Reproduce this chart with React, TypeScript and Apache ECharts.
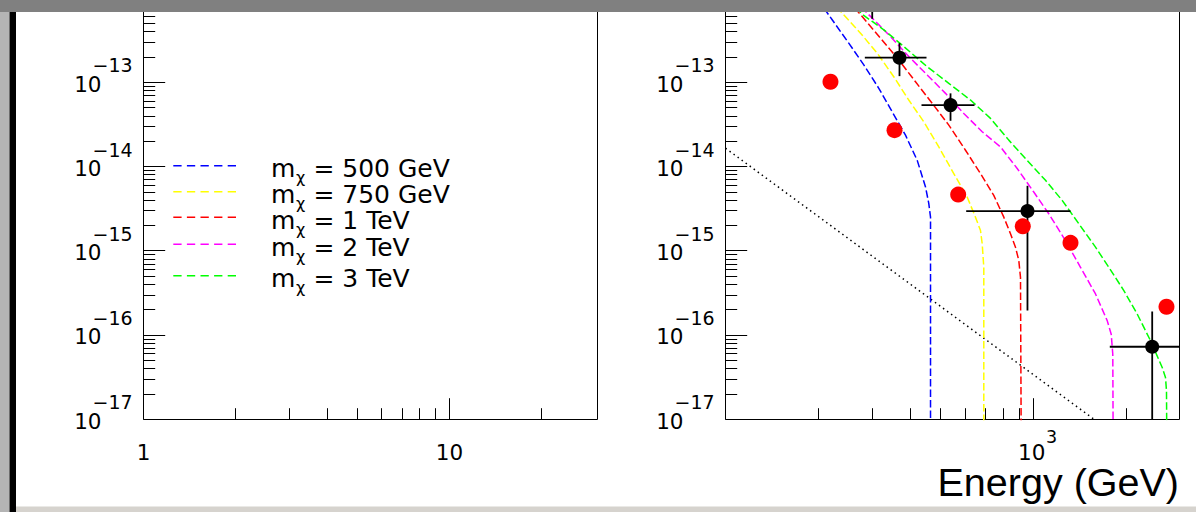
import React, { useEffect, useRef } from "react";
import * as echarts from "echarts";

// ---------------- data ----------------
const massLabels = ["500 GeV", "750 GeV", "1 TeV", "2 TeV", "3 TeV"];
const curveColors = ["#0000ff", "#ffff00", "#ff0000", "#ff00ff", "#00ff00"];

// model spectra [E (GeV), flux]
const curve500: [number, number][] = [
  [199.7, 9.59e-13], [222.0, 5.55e-13], [251.3, 2.93e-13], [281.2, 1.62e-13],
  [314.6, 8.53e-14], [347.6, 4.49e-14], [384.1, 2.37e-14], [419.3, 1.19e-14],
  [446.1, 5.75e-15], [457.2, 3.65e-15], [463.1, 2.52e-15], [463.1, 1e-18],
];
const curve750: [number, number][] = [
  [216.6, 9.59e-13], [239.3, 6.67e-13], [274.4, 3.85e-13], [310.9, 2.23e-13],
  [351.8, 1.17e-13], [393.6, 6.19e-14], [440.5, 3.41e-14], [492.6, 1.72e-14],
  [551.0, 8.3e-15], [609.1, 4.37e-15], [648.1, 2.52e-15], [672.9, 1.75e-15],
  [681.5, 1.22e-15], [689.7, 6.41e-16], [689.7, 1e-18],
];
const curve1000: [number, number][] = [
  [249.5, 9.59e-13], [277.8, 6.07e-13], [318.6, 3.36e-13], [365.3, 1.85e-13],
  [413.9, 1.02e-13], [469.1, 5.65e-14], [530.9, 3.12e-14], [601.5, 1.57e-14],
  [672.9, 8.3e-15], [743.1, 4.58e-15], [801.0, 2.52e-15], [842.1, 1.6e-15],
  [874.1, 1.11e-15], [896.0, 7.71e-16], [907.4, 4.87e-16], [914.1, 1e-18],
];
const curve2000: [number, number][] = [
  [261.0, 9.59e-13], [303.1, 5.55e-13], [343.4, 3.51e-13], [393.6, 2.03e-13],
  [451.7, 1.23e-13], [518.0, 7.43e-14], [593.9, 4.29e-14], [681.5, 2.6e-14],
  [781.4, 1.72e-14], [885.3, 9.53e-15], [1002, 5.01e-15], [1121, 2.77e-15],
  [1270, 1.33e-15], [1421, 6.41e-16], [1590, 3.09e-16], [1735, 1.49e-16],
  [1788, 1.03e-16], [1809, 5.97e-17], [1818, 1e-18],
];
const curve3000: [number, number][] = [
  [250.8, 9.59e-13], [279.1, 6.37e-13], [299.5, 5.3e-13], [326.6, 4.22e-13],
  [379.3, 2.67e-13], [451.7, 1.54e-13], [530.9, 9.77e-14], [624.5, 6.19e-14],
  [725.1, 3.75e-14], [831.5, 2.07e-14], [953.9, 1.19e-14], [1094, 6.9e-15],
  [1239, 3.99e-15], [1403, 2.11e-15], [1590, 1.11e-15], [1756, 6.41e-16],
  [1965, 3.39e-16], [2171, 1.79e-16], [2399, 8.61e-17], [2618, 4.14e-17],
  [2683, 3.15e-17], [2703, 2.18e-17], [2717, 1e-18],
];
const curves = [curve500, curve750, curve1000, curve2000, curve3000];

// black measured points with error bars
const blackE = [299.5, 367.2, 537.8, 956, 2429];
const blackFlux = [1.3e-12, 1.97e-13, 5.39e-14, 2.98e-15, 7.3e-17];
const blackELo = [260, 283.4, 432.9, 604.6, 1769];
const blackEHi = [340, 449.4, 643.4, 1318.8, 3500];
const blackFluxLo = [5.7e-13, 1.19e-13, 3.51e-14, 1.96e-16, 1e-18];
const blackFluxHi = [2e-12, 2.93e-13, 7.43e-14, 5.94e-15, 1.92e-16];

// red points
const redE = [219.2, 353.8, 569.5, 923.2, 1318.8, 2703];
const redFlux = [1.02e-13, 2.72e-14, 4.67e-15, 1.96e-15, 1.25e-15, 2.18e-16];

// dotted background power law
const bkgE = [100, 1576];
const bkgFlux = [1.66e-14, 1e-17];

// ticks and tick labels
const yDecadeValues = [1e-17, 1e-16, 1e-15, 1e-14, 1e-13];
const yExpLabels = ["\u221217", "\u221216", "\u221215", "\u221214", "\u221213"];
const logMantissas = [2, 3, 4, 5, 6, 7, 8, 9];
const leftXMajor = [10];
const leftXMinor = [2, 3, 4, 5, 6, 7, 8, 9, 20];
const leftXLabelValues = [1, 10];
const leftXLabels = ["1", "10"];
const rightXMajor = [1000];
const rightXMinor = [200, 300, 400, 500, 600, 700, 800, 900, 2000];
const rightXLabelValues = [1000];
const rightXLabelBase = ["10"];
const rightXLabelExp = ["3"];
const xTitle = "Energy (GeV)";

// axis ranges
const leftXRange = [1, 30.45];
const rightXRange = [100, 2979];
const yRange = [1e-17, 9.53e-13];

// ---------------- layout ----------------
const FONT = "'DejaVu Sans', sans-serif";
const GRID_TOP = 0;
const GRID_H = 419.5;
const GRID_W = 454;
const LEFT_X0 = 143.5;
const RIGHT_X0 = 725.5;
const TICK_MAJ_Y = 21.7;
const TICK_MIN_Y = 11.7;
const TICK_MAJ_X = 21.3;
const TICK_MIN_X = 11.3;

const LEG = {
  x1: 173.3,
  x2: 236.7,
  lineY: [165.7, 191.7, 217.3, 244.3, 275.7],
  baseY: [177, 202.7, 229, 256, 286.7],
  mX: 271,
  chiX: 296,
  restX: 313.4,
};

type Deco = {
  kind: "xt" | "yt" | "xl" | "yl";
  v: number;
  major?: boolean;
  base?: string;
  exp?: string;
};

function buildDecos(
  xMajor: number[],
  xMinor: number[],
  xLabelVals: number[],
  xLabelBase: string[],
  xLabelExp: (string | undefined)[]
): Deco[] {
  const d: Deco[] = [];
  yDecadeValues.forEach((v, i) => {
    d.push({ kind: "yt", v, major: true });
    d.push({ kind: "yl", v, base: "10", exp: yExpLabels[i] });
    logMantissas.forEach((m) => d.push({ kind: "yt", v: v * m, major: false }));
  });
  xMajor.forEach((v) => d.push({ kind: "xt", v, major: true }));
  xMinor.forEach((v) => d.push({ kind: "xt", v, major: false }));
  xLabelVals.forEach((v, i) =>
    d.push({ kind: "xl", v, base: xLabelBase[i], exp: xLabelExp[i] })
  );
  return d;
}

function decoRender(decos: Deco[], xMin: number, yMin: number) {
  return (params: any, api: any) => {
    const d = decos[params.dataIndex];
    if (!d) return null;
    const crisp = (a: number) => Math.round(a - 0.5) + 0.5;
    if (d.kind === "yt") {
      const p = api.coord([xMin, d.v]);
      const y = crisp(p[1]);
      const len = d.major ? TICK_MAJ_Y : TICK_MIN_Y;
      return {
        type: "line",
        shape: { x1: p[0], y1: y, x2: p[0] + len, y2: y },
        style: { stroke: "#000", lineWidth: 1 },
      };
    }
    if (d.kind === "xt") {
      const p = api.coord([d.v, yMin]);
      const x = crisp(p[0]);
      const len = d.major ? TICK_MAJ_X : TICK_MIN_X;
      return {
        type: "line",
        shape: { x1: x, y1: p[1], x2: x, y2: p[1] - len },
        style: { stroke: "#000", lineWidth: 1 },
      };
    }
    if (d.kind === "yl") {
      const p = api.coord([xMin, d.v]);
      return {
        type: "group",
        children: [
          {
            type: "text",
            x: p[0] - 42,
            y: p[1] + 1.6,
            style: { text: d.base, fill: "#000", fontSize: 21.5, lineHeight: 17, fontFamily: FONT, align: "right", verticalAlign: "middle" },
          },
          {
            type: "text",
            x: p[0] - 51,
            y: p[1] - 17.2,
            style: { text: d.exp, fill: "#000", fontSize: 19, lineHeight: 15, fontFamily: FONT, align: "left", verticalAlign: "middle" },
          },
        ],
      };
    }
    // xl
    const p = api.coord([d.v, yMin]);
    const children: any[] = [
      {
        type: "text",
        x: p[0] + (d.exp ? -1.8 : 0),
        y: p[1] + 32.6,
        style: { text: d.base, fill: "#000", fontSize: 21.5, lineHeight: 17, fontFamily: FONT, align: "center", verticalAlign: "middle" },
      },
    ];
    if (d.exp) {
      children.push({
        type: "text",
        x: p[0] + 12.5,
        y: p[1] + 17.1,
        style: { text: d.exp, fill: "#000", fontSize: 17.5, lineHeight: 14, fontFamily: FONT, align: "left", verticalAlign: "middle" },
      });
    }
    return { type: "group", children };
  };
}

const hiddenAxis = {
  axisLine: { show: false },
  axisTick: { show: false },
  axisLabel: { show: false },
  splitLine: { show: false },
  minorTick: { show: false },
  minorSplitLine: { show: false },
};

export default function App() {
  const ref = useRef<HTMLDivElement>(null);

  useEffect(() => {
    if (!ref.current) return;
    const chart = echarts.init(ref.current, undefined, { renderer: "svg" });

    const leftDecos = buildDecos(leftXMajor, leftXMinor, leftXLabelValues, leftXLabels, [undefined, undefined]);
    const rightDecos = buildDecos(rightXMajor, rightXMinor, rightXLabelValues, rightXLabelBase, rightXLabelExp);

    const decoData = (decos: Deco[], xMin: number, yMin: number) =>
      decos.map((d) => (d.kind === "yt" || d.kind === "yl" ? [xMin, d.v] : [d.v, yMin]));

    const series: any[] = [
      {
        type: "custom",
        xAxisIndex: 0,
        yAxisIndex: 0,
        clip: false,
        silent: true,
        z: 6,
        renderItem: decoRender(leftDecos, leftXRange[0], yRange[0]),
        data: decoData(leftDecos, leftXRange[0], yRange[0]),
      },
      {
        type: "custom",
        xAxisIndex: 1,
        yAxisIndex: 1,
        clip: false,
        silent: true,
        z: 6,
        renderItem: decoRender(rightDecos, rightXRange[0], yRange[0]),
        data: decoData(rightDecos, rightXRange[0], yRange[0]),
      },
      {
        type: "line",
        xAxisIndex: 1,
        yAxisIndex: 1,
        data: bkgE.map((e, i) => [e, bkgFlux[i]]),
        symbol: "none",
        showSymbol: false,
        clip: true,
        silent: true,
        z: 2,
        lineStyle: { color: "#000", width: 1.5, type: [1.5, 3.5] },
      },
      ...curves.map((c, i) => ({
        type: "line",
        name: massLabels[i],
        xAxisIndex: 1,
        yAxisIndex: 1,
        data: c,
        symbol: "none",
        showSymbol: false,
        clip: true,
        silent: true,
        z: 2,
        lineStyle: { color: curveColors[i], width: 1.5, type: [7.5, 3], opacity: 1 },
      })),
      {
        type: "custom",
        xAxisIndex: 1,
        yAxisIndex: 1,
        clip: true,
        silent: true,
        z: 4,
        encode: { x: 0, y: 1 },
        data: blackE.map((e, i) => [e, blackFlux[i], blackELo[i], blackEHi[i], blackFluxLo[i], blackFluxHi[i]]),
        renderItem: (params: any, api: any) => {
          const x = api.value(0);
          const y = api.value(1);
          const c = api.coord([x, y]);
          const l = api.coord([api.value(2), y]);
          const r = api.coord([api.value(3), y]);
          const b = api.coord([x, api.value(4)]);
          const t = api.coord([x, api.value(5)]);
          const st = { stroke: "#000", lineWidth: 1.8 };
          return {
            type: "group",
            children: [
              { type: "line", shape: { x1: l[0], y1: c[1], x2: r[0], y2: c[1] }, style: st },
              { type: "line", shape: { x1: c[0], y1: t[1], x2: c[0], y2: b[1] }, style: st },
            ],
          };
        },
      },
      {
        type: "scatter",
        xAxisIndex: 1,
        yAxisIndex: 1,
        data: redE.map((e, i) => [e, redFlux[i]]),
        symbol: "circle",
        symbolSize: 16,
        itemStyle: { color: "#ff0000", opacity: 1 },
        silent: true,
        z: 5,
      },
      {
        type: "scatter",
        xAxisIndex: 1,
        yAxisIndex: 1,
        data: blackE.map((e, i) => [e, blackFlux[i]]),
        symbol: "circle",
        symbolSize: 14,
        itemStyle: { color: "#000", opacity: 1 },
        silent: true,
        z: 5,
      },
    ];

    const graphics: any[] = [];
    massLabels.forEach((lab, i) => {
      graphics.push({
        type: "line",
        z: 10,
        shape: { x1: LEG.x1, y1: LEG.lineY[i], x2: LEG.x2, y2: LEG.lineY[i] },
        style: { stroke: curveColors[i], lineWidth: 1.5, lineDash: [8.3, 5.3] },
      });
      graphics.push({
        type: "text",
        z: 10,
        x: LEG.mX,
        y: LEG.baseY[i] - 8.65,
        style: { text: "m", fill: "#000", fontSize: 25, lineHeight: 20, fontFamily: FONT, align: "left", verticalAlign: "middle" },
      });
      graphics.push({
        type: "text",
        z: 10,
        x: LEG.chiX,
        y: LEG.baseY[i] + 0.66,
        style: { text: "\u03c7", fill: "#000", fontSize: 16, lineHeight: 13, fontFamily: FONT, align: "left", verticalAlign: "middle" },
      });
      graphics.push({
        type: "text",
        z: 10,
        x: LEG.restX,
        y: LEG.baseY[i] - 8.65,
        style: { text: "= " + lab, fill: "#000", fontSize: 25, lineHeight: 20, fontFamily: FONT, align: "left", verticalAlign: "middle" },
      });
    });
    graphics.push({
      type: "text",
      z: 10,
      x: 1179,
      y: 482,
      style: { text: xTitle, fill: "#000", fontSize: 39.5, lineHeight: 34, fontFamily: "'Liberation Sans', Arial, sans-serif", align: "right", verticalAlign: "middle" },
    });
    // window chrome
    graphics.push({ type: "rect", z: 100, shape: { x: 0, y: 0, width: 1196, height: 12 }, style: { fill: "#808080" } });
    graphics.push({ type: "rect", z: 100, shape: { x: 0, y: 12, width: 9.5, height: 500 }, style: { fill: "#b4b4b4" } });
    graphics.push({ type: "rect", z: 100, shape: { x: 9.5, y: 12, width: 6.5, height: 500 }, style: { fill: "#000000" } });
    graphics.push({ type: "rect", z: 100, shape: { x: 16, y: 506.5, width: 1180, height: 5.5 }, style: { fill: "#d6d3ce" } });

    chart.setOption({
      animation: false,
      backgroundColor: "#ffffff",
      grid: [
        { left: LEFT_X0, top: GRID_TOP, width: GRID_W, height: GRID_H, show: true, borderColor: "#000", borderWidth: 1, backgroundColor: "transparent", containLabel: false },
        { left: RIGHT_X0, top: GRID_TOP, width: GRID_W, height: GRID_H, show: true, borderColor: "#000", borderWidth: 1, backgroundColor: "transparent", containLabel: false },
      ],
      xAxis: [
        { type: "log", logBase: 10, gridIndex: 0, min: leftXRange[0], max: leftXRange[1], ...hiddenAxis },
        { type: "log", logBase: 10, gridIndex: 1, min: rightXRange[0], max: rightXRange[1], ...hiddenAxis },
      ],
      yAxis: [
        { type: "log", logBase: 10, gridIndex: 0, min: yRange[0], max: yRange[1], ...hiddenAxis },
        { type: "log", logBase: 10, gridIndex: 1, min: yRange[0], max: yRange[1], ...hiddenAxis },
      ],
      series,
      graphic: { elements: graphics },
    });

    return () => chart.dispose();
  }, []);

  return (
    <div
      ref={ref}
      style={{ position: "absolute", left: 0, top: 0, width: 1196, height: 512 }}
    />
  );
}
